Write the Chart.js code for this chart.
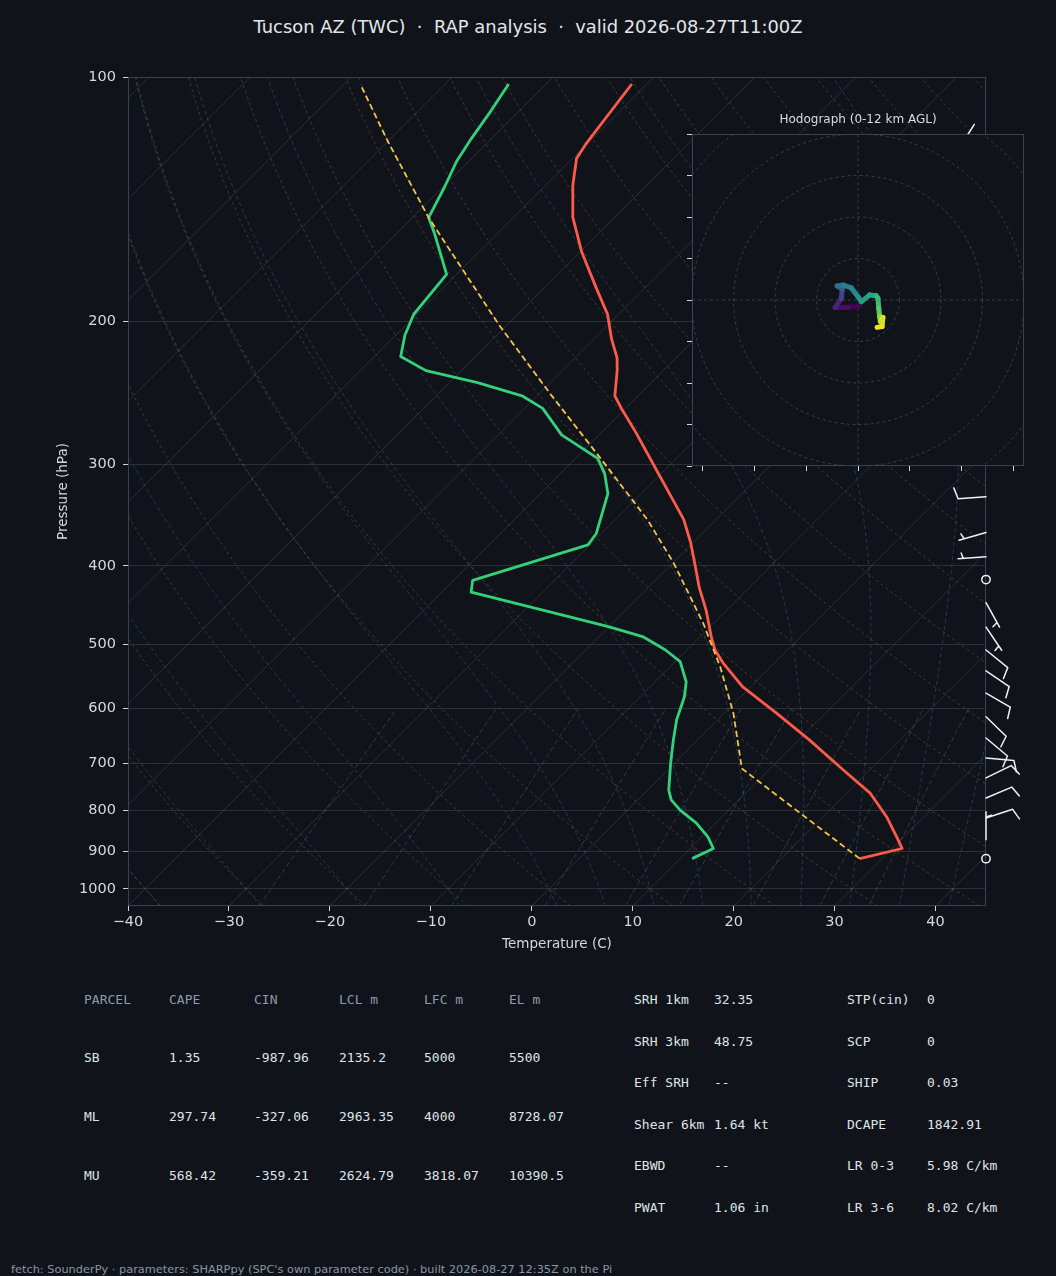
<!DOCTYPE html>
<html>
<head>
<meta charset="utf-8">
<title>Tucson AZ (TWC) sounding</title>
<script src="https://cdn.jsdelivr.net/npm/chart.js@4.4.1/dist/chart.umd.min.js"></script>
<style>
  html, body { margin: 0; padding: 0; background: #10141a; }
  body { position: relative; width: 1056px; height: 1276px; overflow: hidden; font-family: "DejaVu Sans", sans-serif; }
  canvas { position: absolute; }
  #skewt { left: 0; top: 0; }
  #hodo { left: 682px; top: 100px; }
  #title { position: absolute; left: 0; top: 16px; width: 1056px; text-align: center; font-size: 17.9px; line-height: 22px; color: #e2e6ea; white-space: pre; }
  .cell { position: absolute; font-family: "DejaVu Sans Mono", monospace; font-size: 13px; line-height: 16px; color: #dfe3e8; white-space: pre; }
  .head { color: #8d9aaa; }
  #foot { position: absolute; left: 11px; top: 1262px; font-size: 11.35px; line-height: 14px; color: #8a95a1; white-space: pre; }
</style>
</head>
<body>
<div id="title">Tucson AZ (TWC)  ·  RAP analysis  ·  valid 2026-08-27T11:00Z</div>
<canvas id="skewt" width="1056" height="980"></canvas>
<canvas id="hodo" width="352" height="376"></canvas>
<div id="tables"></div>
<div id="foot">fetch: SounderPy · parameters: SHARPpy (SPC's own parameter code) · built 2026-08-27 12:35Z on the Pi</div>
<script>
// ---- sounding (hPa / deg C) ----
const tempP = [918, 892, 863, 815, 763, 714, 656, 608, 564, 528, 508, 489, 454, 425, 401, 375, 351, 320, 309, 274,
  256, 247, 229, 222, 210, 196, 182, 164, 149, 136, 126, 121, 102];
const tempC = [27.8, 31.0, 29.3, 26.3, 22.4, 17.4, 11.1, 5.2, -0.8, -5.0, -7.2, -8.9, -12.0, -15.0, -17.4, -20.2, -23.2, -28.2, -30.1, -36.6,
  -40.4, -42.3, -44.7, -45.8, -48.3, -51.1, -54.8, -59.9, -64.1, -67.3, -69.6, -70.1, -71.5];

const dewP = [918, 892, 863, 830, 800, 777, 756, 700, 656, 619, 580, 556, 525, 508, 489, 475, 431, 417, 377, 365,
  326, 308, 295, 276, 256, 247, 238, 230, 221, 208, 196, 175, 156, 149, 137, 127, 119, 110, 102];
const dewC = [11.2, 12.3, 10.6, 8.1, 5.2, 3.3, 2.1, -0.4, -2.4, -4.1, -5.6, -6.9, -9.5, -12.1, -15.7, -20.2, -37.1, -38.1, -30.2, -30.5,
  -33.3, -35.6, -37.8, -43.7, -48.2, -51.5, -57.2, -63.5, -67.4, -69.1, -70.3, -71.0, -76.2, -78.4, -79.8, -81.2, -82.0, -82.8, -83.7];

const parcelP = [918, 711, 608, 533, 471, 397, 351, 296, 246, 202, 149, 120, 103];
const parcelC = [27.8, 7.2, 0.9, -5.0, -11.0, -19.9, -26.8, -37.3, -48.8, -60.8, -78.4, -90.0, -97.9];

// wind barbs (direction from, knots)
const barbP = [125, 150, 200, 250, 329, 364, 390, 416, 444, 476, 508, 539, 574, 614, 652, 690, 730, 773, 818, 870, 918];
const barbDir = [320, 290, 275, 265, 266, 254, 266, 0, 151, 146, 129, 124, 120, 134, 130, 95, 64, 67, 72, 0, 0];
const barbSpd = [10, 10, 5, 5, 10, 5, 5, 0, 5, 5, 10, 10, 10, 10, 10, 10, 10, 10, 10, 5, 0];

// hodograph (kt) coloured by height AGL (km)
const hodoU = [0.4, -2.5, -5.5, -4.0, -3.8, -5.0, -3.5, -1.6, 0.0, 0.8, 2.8, 4.4, 4.8, 5.0, 5.2, 5.4, 6.0, 5.8, 4.6];
const hodoV = [-1.4, -1.8, -1.8, 0.4, 2.6, 3.4, 3.6, 2.9, 0.8, -0.4, 1.2, 1.0, 0.4, -2.0, -4.0, -5.2, -4.2, -6.4, -6.6];
const hodoZ = [0, 0.5, 1.2, 2.4, 3.4, 4.4, 5.0, 5.6, 6.2, 6.6, 7.2, 7.8, 8.2, 9.0, 10.0, 10.8, 11.2, 11.6, 12];

// axes / reference lines
const xTicks = [-40, -30, -20, -10, 0, 10, 20, 30, 40];
const pTicks = [100, 200, 300, 400, 500, 600, 700, 800, 900, 1000];
const isotherms = [-120, -110, -100, -90, -80, -70, -60, -50, -40, -30, -20, -10, 0, 10, 20, 30, 40];
const dryAdiabatT0 = [-40, -30, -20, -10, 0, 10, 20, 30, 40, 50, 60, 70, 80, 90, 100, 110, 120, 130, 140, 150, 160, 170, 180, 190, 200, 210, 220, 230, 240];
const moistAdiabatT0 = [-40, -30, -20, -10, 0, 5, 10, 15, 20, 25, 30, 35, 40, 45];
const mixingRatios = [0.0004, 0.001, 0.002, 0.004, 0.007, 0.01, 0.016, 0.024, 0.032];
const hodoRings = [10, 20, 30, 40, 50, 60];
const hodoXTicks = [-37.5, -25, -12.5, 0, 12.5, 25, 37.5];
const hodoYTicks = [-40, -30, -20, -10, 0, 10, 20, 30, 40];

// table text
const parcelHead = ['PARCEL', 'CAPE', 'CIN', 'LCL m', 'LFC m', 'EL m'];
const parcelRows = [
  ['SB', '1.35', '-987.96', '2135.2', '5000', '5500'],
  ['ML', '297.74', '-327.06', '2963.35', '4000', '8728.07'],
  ['MU', '568.42', '-359.21', '2624.79', '3818.07', '10390.5']
];
const paramNameA = ['SRH 1km', 'SRH 3km', 'Eff SRH', 'Shear 6km', 'EBWD', 'PWAT'];
const paramValA = ['32.35', '48.75', '--', '1.64 kt', '--', '1.06 in'];
const paramNameB = ['STP(cin)', 'SCP', 'SHIP', 'DCAPE', 'LR 0-3', 'LR 3-6'];
const paramValB = ['0', '0', '0.03', '1842.91', '5.98 C/km', '8.02 C/km'];

const FONT = "'DejaVu Sans', sans-serif";
const TEXT = '#d4d9de';
Chart.defaults.font.family = FONT;

const SKEW = 80.4;   // deg C per decade of pressure, gives 45 degree isotherms
const P_BOTTOM = 1050, P_TOP = 100;
const skewX = (t, p) => t + SKEW * Math.log10(P_BOTTOM / p);
const profile = (ps, ts) => ps.map((p, i) => ({ x: skewX(ts[i], p), y: p }));
const logSpace = (a, b, n) => Array.from({ length: n }, (_, i) => a * Math.pow(b / a, i / (n - 1)));
const minus = v => (v < 0 ? '\u2212' + Math.abs(v) : String(v));

function moistPath(t0) {
  const Rd = 287.04, Cp = 1005.7, Lv = 2.501e6, eps = 0.622;
  const slope = (lnp, T) => {
    const p = Math.exp(lnp), tc = T - 273.15;
    const es = 6.112 * Math.exp(17.67 * tc / (tc + 243.5));
    const rs = eps * es / (p - es);
    return (Rd * T + Lv * rs) / (Cp + Lv * Lv * rs * eps / (Rd * T * T));
  };
  const run = (pEnd, n) => {
    let lnp = Math.log(1000), T = t0 + 273.15;
    const h = (Math.log(pEnd) - lnp) / n;
    const out = [[t0, 1000]];
    for (let i = 0; i < n; i++) {
      const k1 = slope(lnp, T), k2 = slope(lnp + h / 2, T + h * k1 / 2);
      const k3 = slope(lnp + h / 2, T + h * k2 / 2), k4 = slope(lnp + h, T + h * k3);
      T += h * (k1 + 2 * k2 + 2 * k3 + k4) / 6;
      lnp += h;
      out.push([T - 273.15, Math.exp(lnp)]);
    }
    return out;
  };
  return run(P_BOTTOM, 4).reverse().concat(run(P_TOP, 80).slice(1));
}

function dewFromMix(w, p) {
  const e = p * w / (0.622 + w), l = Math.log(e / 6.112);
  return 243.5 * l / (17.67 - l);
}

function polyline(ctx, xs, ys, pts) {
  ctx.beginPath();
  pts.forEach(([t, p], i) => {
    const X = xs.getPixelForValue(skewX(t, p)), Y = ys.getPixelForValue(p);
    if (i) ctx.lineTo(X, Y); else ctx.moveTo(X, Y);
  });
  ctx.stroke();
}

const skewBackground = {
  id: 'skewBackground',
  beforeDatasetsDraw(chart) {
    const { ctx, chartArea: a, scales: { x, y } } = chart;
    ctx.save();
    ctx.beginPath();
    ctx.rect(a.left, a.top, a.width, a.height);
    ctx.clip();
    ctx.lineWidth = 1;

    // isotherms
    ctx.strokeStyle = 'rgba(150,160,172,0.2)';
    ctx.setLineDash([]);
    isotherms.forEach(t => polyline(ctx, x, y, [[t, P_BOTTOM], [t, P_TOP]]));

    // dry adiabats
    const pAll = logSpace(P_BOTTOM, P_TOP, 60);
    ctx.strokeStyle = 'rgba(196,134,72,0.32)';
    ctx.setLineDash([3, 3]);
    dryAdiabatT0.forEach(t0 => {
      const th = t0 + 273.15;
      polyline(ctx, x, y, pAll.map(p => [th * Math.pow(p / 1000, 0.2857) - 273.15, p]));
    });

    // moist adiabats
    ctx.strokeStyle = 'rgba(74,140,170,0.32)';
    ctx.setLineDash([4, 3]);
    moistAdiabatT0.forEach(t0 => polyline(ctx, x, y, moistPath(t0)));

    // mixing ratio lines
    ctx.strokeStyle = 'rgba(90,150,165,0.32)';
    ctx.setLineDash([5, 3]);
    const pMix = Array.from({ length: 20 }, (_, i) => 1050 - i * 450 / 19);
    mixingRatios.forEach(w => polyline(ctx, x, y, pMix.map(p => [dewFromMix(w, p), p])));
    ctx.restore();

    ctx.save();
    ctx.strokeStyle = '#384350';
    ctx.lineWidth = 1;
    ctx.strokeRect(a.left + 0.5, a.top + 0.5, a.width - 1, a.height - 1);
    ctx.restore();
  }
};

const windBarbs = {
  id: 'windBarbs',
  afterDatasetsDraw(chart) {
    const { ctx, chartArea, scales } = chart;
    const L = 28, h = 0.4 * L, w = 0.25 * L, sp = 0.125 * L;
    ctx.save();
    ctx.strokeStyle = '#eef1f4';
    ctx.lineWidth = 1.5;
    ctx.lineCap = 'round';
    barbP.forEach((p, i) => {
      const x0 = chartArea.right, y0 = scales.y.getPixelForValue(p);
      const spd = Math.round(barbSpd[i] / 5) * 5;
      if (spd === 0) {
        ctx.beginPath();
        ctx.arc(x0, y0, 0.15 * L, 0, 2 * Math.PI);
        ctx.stroke();
        return;
      }
      const b = barbDir[i] * Math.PI / 180;
      const sx = Math.sin(b), sy = -Math.cos(b), fx = Math.cos(b), fy = Math.sin(b);
      const at = d => [x0 + d * sx, y0 + d * sy];
      const full = Math.floor(spd / 10);
      const half = (spd % 10) >= 5;
      ctx.beginPath();
      ctx.moveTo(x0, y0);
      ctx.lineTo(...at(L));
      let off = L;
      for (let k = 0; k < full; k++) {
        const [ax, ay] = at(off), [bx, by] = at(off + w / 2);
        ctx.moveTo(ax, ay);
        ctx.lineTo(bx + h * fx, by + h * fy);
        off -= sp;
      }
      if (half) {
        if (off === L) off -= 1.5 * sp;
        const [ax, ay] = at(off), [bx, by] = at(off + w / 4);
        ctx.moveTo(ax, ay);
        ctx.lineTo(bx + h / 2 * fx, by + h / 2 * fy);
      }
      ctx.stroke();
    });
    ctx.restore();
  }
};

new Chart(document.getElementById('skewt'), {
  type: 'line',
  data: {
    datasets: [
      { label: 'Parcel', data: profile(parcelP, parcelC), borderColor: '#f6c343', borderWidth: 1.8, borderDash: [6, 3.5], pointRadius: 0, tension: 0 },
      { label: 'Temperature', data: profile(tempP, tempC), borderColor: '#ff5b4a', borderWidth: 2.8, pointRadius: 0, tension: 0, borderJoinStyle: 'round' },
      { label: 'Dewpoint', data: profile(dewP, dewC), borderColor: '#33d17a', borderWidth: 2.8, pointRadius: 0, tension: 0, borderJoinStyle: 'round' }
    ]
  },
  options: {
    responsive: false,
    animation: false,
    events: [],
    layout: { padding: { top: 77, right: 70, left: 0, bottom: 0 } },
    plugins: { legend: { display: false }, tooltip: { enabled: false } },
    scales: {
      x: {
        type: 'linear', min: -40, max: 45,
        afterBuildTicks: s => { s.ticks = xTicks.map(v => ({ value: v })); },
        afterFit: s => { s.height = 74; },
        grid: { drawOnChartArea: false, tickLength: 5, tickColor: '#cfd5db', tickWidth: 1 },
        border: { display: false },
        ticks: { color: TEXT, font: { size: 14.5 }, padding: 3, maxRotation: 0, autoSkip: false, callback: v => minus(v) },
        title: { display: true, text: 'Temperature (C)', color: TEXT, font: { size: 13.5 }, padding: { top: 0, bottom: 27 } }
      },
      y: {
        type: 'logarithmic', reverse: true, min: P_TOP, max: P_BOTTOM,
        afterBuildTicks: s => { s.ticks = pTicks.map(v => ({ value: v })); },
        afterFit: s => { s.width = 128; },
        grid: { color: 'rgba(150,160,172,0.2)', lineWidth: 1, tickLength: 5, tickColor: '#cfd5db', tickWidth: 1 },
        border: { display: false },
        ticks: { color: TEXT, font: { size: 14.5 }, padding: 7, autoSkip: false, callback: v => String(v) },
        title: { display: true, text: 'Pressure (hPa)', color: TEXT, font: { size: 13.5 }, padding: { top: 55, bottom: 0 } }
      }
    }
  },
  plugins: [skewBackground, windBarbs]
});

// ---- hodograph inset ----
const viridisStops = ['#440154', '#482475', '#414487', '#355f8d', '#2a788e', '#21918c', '#22a884', '#44bf70', '#7ad151', '#bddf26', '#fde725'];
function viridis(t) {
  const f = Math.max(0, Math.min(1, t)) * (viridisStops.length - 1);
  const i = Math.min(Math.floor(f), viridisStops.length - 2), r = f - i;
  const c = s => [1, 3, 5].map(k => parseInt(s.substr(k, 2), 16));
  const a = c(viridisStops[i]), b = c(viridisStops[i + 1]);
  return 'rgb(' + a.map((v, k) => Math.round(v + (b[k] - v) * r)).join(',') + ')';
}

const hodoFrame = {
  id: 'hodoFrame',
  beforeDraw(chart) {
    const { ctx, chartArea: a } = chart;
    ctx.save();
    ctx.fillStyle = '#10141a';
    ctx.fillRect(a.left, a.top, a.width, a.height);
    ctx.restore();
  },
  beforeDatasetsDraw(chart) {
    const { ctx, chartArea: a, scales: { x, y } } = chart;
    const cx = x.getPixelForValue(0), cy = y.getPixelForValue(0);
    ctx.save();
    ctx.beginPath();
    ctx.rect(a.left, a.top, a.width, a.height);
    ctx.clip();
    ctx.strokeStyle = 'rgba(150,160,172,0.3)';
    ctx.lineWidth = 1;
    ctx.setLineDash([3, 3]);
    hodoRings.forEach(r => {
      ctx.beginPath();
      ctx.arc(cx, cy, x.getPixelForValue(r) - cx, 0, 2 * Math.PI);
      ctx.stroke();
    });
    ctx.beginPath();
    ctx.moveTo(a.left, cy); ctx.lineTo(a.right, cy);
    ctx.moveTo(cx, a.top); ctx.lineTo(cx, a.bottom);
    ctx.stroke();
    ctx.restore();
  },
  afterDatasetsDraw(chart) {
    const { ctx, chartArea: a } = chart;
    ctx.save();
    ctx.strokeStyle = '#384350';
    ctx.lineWidth = 1;
    ctx.strokeRect(a.left + 0.5, a.top + 0.5, a.width - 1, a.height - 1);
    ctx.restore();
  }
};

new Chart(document.getElementById('hodo'), {
  type: 'line',
  data: {
    datasets: [{
      data: hodoU.map((u, i) => ({ x: u, y: hodoV[i] })),
      borderWidth: 5, pointRadius: 0, tension: 0,
      borderCapStyle: 'round', borderJoinStyle: 'round',
      borderColor: viridis(0.5),
      segment: { borderColor: c => viridis(hodoZ[c.p0DataIndex] / 12) }
    }]
  },
  options: {
    responsive: false,
    animation: false,
    events: [],
    layout: { padding: { left: 10, right: 10, top: 0, bottom: 0 } },
    plugins: {
      legend: { display: false }, tooltip: { enabled: false },
      title: { display: true, text: 'Hodograph (0-12 km AGL)', color: '#d8dde2', font: { size: 12, weight: 'normal' }, padding: { top: 13, bottom: 6.6 } }
    },
    scales: {
      x: {
        type: 'linear', min: -40, max: 40,
        afterBuildTicks: s => { s.ticks = hodoXTicks.map(v => ({ value: v })); },
        afterFit: s => { s.height = 10; },
        grid: { drawOnChartArea: false, tickLength: 5, tickColor: '#cfd5db' },
        border: { display: false },
        ticks: { display: false }
      },
      y: {
        type: 'linear', min: -40, max: 40,
        afterBuildTicks: s => { s.ticks = hodoYTicks.map(v => ({ value: v })); },
        afterFit: s => { s.width = 0; },
        grid: { drawOnChartArea: false, tickLength: 5, tickColor: '#cfd5db' },
        border: { display: false },
        ticks: { display: false }
      }
    }
  },
  plugins: [hodoFrame]
});

// ---- parameter tables ----
const tables = document.getElementById('tables');
function cell(text, x, yc, cls) {
  const d = document.createElement('div');
  d.className = 'cell' + (cls ? ' ' + cls : '');
  d.textContent = text;
  d.style.left = x + 'px';
  d.style.top = (yc - 8) + 'px';
  tables.appendChild(d);
}
const parcelX = [84, 169, 254, 339, 424, 509];
const parcelY = [1058, 1117, 1176];
parcelHead.forEach((t, j) => cell(t, parcelX[j], 1000, 'head'));
parcelRows.forEach((row, i) => row.forEach((t, j) => cell(t, parcelX[j], parcelY[i])));
const paramY = [1000, 1041.5, 1083, 1124.5, 1166, 1207.5];
paramNameA.forEach((t, i) => { cell(t, 634, paramY[i]); cell(paramValA[i], 714, paramY[i]); });
paramNameB.forEach((t, i) => { cell(t, 847, paramY[i]); cell(paramValB[i], 927, paramY[i]); });
</script>
</body>
</html>
